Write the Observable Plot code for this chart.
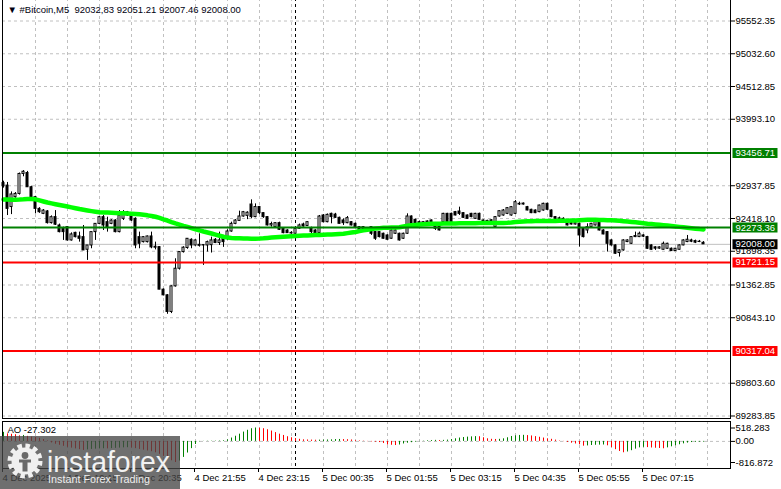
<!DOCTYPE html>
<html><head><meta charset="utf-8">
<script src="https://cdn.jsdelivr.net/npm/d3@7"></script>
<script src="https://cdn.jsdelivr.net/npm/@observablehq/plot@0.6"></script>
<style>
html,body{margin:0;padding:0;background:#fff;}
#wrap{position:relative;width:781px;height:489px;overflow:hidden;background:#fff;}
#main{position:absolute;left:0;top:-2px;}
#ao{position:absolute;left:0;top:419px;}
#logo{position:absolute;left:0;top:436px;}
</style></head>
<body><div id="wrap"><div id="main"></div><div id="ao"></div>
<svg id="logo" width="181" height="53">
  <rect x="0" y="0" width="180" height="53" fill="rgb(70,70,70)" fill-opacity="0.78"/>
  <g transform="translate(25,25)">
    <circle r="15" fill="none" stroke="#f0f0f0" stroke-width="5" stroke-dasharray="4.4 3.45"/>
    <circle r="13.5" fill="#f0f0f0"/>
    <circle cx="0" cy="-5.5" r="3.4" fill="rgb(105,105,105)"/>
    <path d="M-6,-1.5 h12 v3 h-3.5 v9 h-5 v-9 h-3.5z" fill="rgb(105,105,105)"/>
  </g>
  <text x="47" y="35.5" font-family="Liberation Sans, Arial, sans-serif" font-size="30" textLength="123" lengthAdjust="spacingAndGlyphs" fill="#f2f2f2">instaforex</text>
  <text x="48" y="47" font-family="Liberation Sans, Arial, sans-serif" font-size="11" textLength="102" lengthAdjust="spacingAndGlyphs" fill="#eeeeee">Instant Forex Trading</text>
</svg>
</div>
<script>
// ---------- data ----------
const title = "\u25BC #Bitcoin,M5 \u00A092032,83 92051.21 92007.46 92008.00";
const aoLabel = "AO -27.302";

const open = [92980,92940,92600,92756,92808,93125,93140,92914,92756,92571,92492,92530,92345,92440,92307,92254,92281,92070,92190,92133,
92122,91922,91990,92202,92333,92439,92360,92333,92386,92202,92413,92518,92465,92413,92122,92043,92043,92133,91970,91964,
91289,91199,90935,91341,91621,91885,91950,92080,91990,92000,91995,91990,91995,92080,92030,92096,92122,92212,92333,92380,
92450,92460,92640,92440,92600,92503,92440,92308,92281,92344,92255,92228,92190,92176,92255,92323,92300,92255,92228,92186,
92466,92360,92492,92480,92429,92387,92344,92360,92334,92281,92281,92255,92281,92202,92202,92176,92149,92097,92176,92176,
92097,92176,92450,92397,92360,92334,92371,92387,92344,92334,92360,92492,92492,92519,92529,92503,92466,92492,92413,92492,
92387,92370,92375,92281,92450,92466,92492,92466,92492,92651,92640,92598,92556,92545,92519,92545,92651,92545,92440,92420,
92413,92360,92344,92323,92334,92255,92228,92281,92308,92387,92228,92202,92070,91991,91870,91912,92044,92017,92123,92123,
92149,92123,91991,91960,91940,91922,91938,91938,91901,91922,91991,92044,92070,92060,92050,92032.83];
const high = [93010,92990,92840,92830,93140,93178,93165,92930,92770,92590,92560,92545,92460,92544,92330,92281,92290,92190,92200,92202,
92307,91990,92202,92333,92450,92465,92439,92400,92400,92544,92544,92530,92480,92430,92202,92130,92140,92202,92043,91970,
91300,91210,91350,91779,91890,91970,92096,92096,92080,92175,92005,92060,92122,92100,92202,92149,92240,92360,92400,92535,
92530,92525,92714,92650,92610,92510,92450,92360,92350,92360,92265,92240,92210,92270,92330,92344,92370,92281,92240,92466,
92480,92490,92503,92500,92440,92413,92450,92370,92345,92290,92290,92265,92290,92210,92210,92186,92160,92240,92240,92186,
92186,92492,92460,92410,92376,92370,92380,92395,92355,92344,92500,92500,92503,92530,92598,92510,92475,92500,92500,92503,
92395,92390,92400,92450,92540,92560,92590,92608,92703,92677,92665,92610,92565,92555,92630,92661,92660,92555,92450,92440,
92430,92370,92355,92350,92344,92265,92334,92340,92390,92400,92240,92210,92080,92000,91920,92080,92080,92130,92202,92202,
92160,92135,92000,91970,91970,92044,92025,91950,91945,92000,92080,92149,92090,92075,92070,92051.21];
const low = [92900,92465,92480,92740,92790,93080,92914,92740,92492,92500,92480,92330,92330,92307,92190,92070,92060,92060,92110,92043,
91911,91753,91938,92070,92320,92228,92202,92320,92190,92190,92386,92450,92370,91938,91938,92030,92030,91938,91920,91289,
91190,90898,90909,91330,91600,91870,91930,91938,91980,91964,91674,91885,91870,92020,91990,91960,92070,92200,92320,92370,
92440,92400,92413,92430,92480,92420,92300,92281,92270,92228,92176,92180,92170,92165,92245,92281,92290,92176,92180,92176,
92350,92350,92334,92420,92330,92308,92335,92300,92270,92230,92220,92230,92150,92070,92110,92090,92075,92090,92165,92060,
92085,92165,92320,92320,92325,92315,92335,92325,92228,92220,92350,92350,92350,92460,92466,92420,92405,92430,92405,92390,
92355,92355,92355,92270,92440,92455,92480,92455,92480,92624,92630,92540,92495,92495,92510,92535,92550,92430,92405,92405,
92395,92300,92315,92315,91965,92110,92176,92270,92300,92220,92160,91886,91980,91850,91806,91900,92035,92005,92115,92115,
92115,91930,91915,91912,91930,91915,91930,91895,91895,91915,91985,92035,92035,92020,92035,92007.46];
const close = [92930,92571,92800,92808,93125,93160,92914,92756,92571,92518,92544,92345,92439,92320,92202,92202,92070,92165,92122,92096,
91911,91990,92202,92333,92439,92307,92281,92386,92202,92465,92518,92465,92386,91990,92017,92122,92133,91960,91955,91289,
91199,90935,91341,91621,91885,91955,92096,91990,92070,91985,91990,92043,92070,92030,92070,92043,92212,92333,92386,92450,
92518,92510,92440,92600,92503,92440,92308,92330,92344,92239,92186,92186,92180,92255,92308,92292,92360,92202,92186,92450,
92360,92476,92440,92429,92334,92344,92424,92308,92281,92239,92228,92239,92176,92097,92123,92097,92081,92228,92228,92070,
92176,92450,92334,92334,92334,92360,92344,92334,92255,92228,92492,92360,92360,92466,92492,92429,92413,92440,92492,92397,
92365,92380,92390,92440,92534,92545,92582,92598,92677,92640,92655,92545,92503,92503,92624,92651,92556,92440,92413,92413,
92400,92308,92323,92344,92149,92123,92281,92334,92376,92228,92165,92017,91991,91859,91912,92070,92070,92123,92140,92176,
92130,91938,91922,91940,91960,92017,92017,91901,91938,91991,92070,92081,92050,92035,92045,92008.00];
const maValues = [92720,92718,92716,92716,92718,92722,92728,92729,92722,92705,92688,92672,92658,92645,92632,92620,92608,92595,92582,92568,
92556,92545,92535,92526,92518,92515,92512,92508,92505,92502,92500,92498,92494,92490,92484,92476,92468,92458,92446,92428,
92405,92386,92362,92340,92322,92302,92284,92266,92248,92230,92212,92196,92180,92162,92145,92128,92115,92108,92105,92103,
92102,92100,92098,92098,92100,92104,92110,92116,92120,92124,92128,92132,92136,92140,92144,92148,92150,92152,92155,92158,
92160,92163,92166,92170,92173,92176,92186,92196,92205,92218,92230,92240,92250,92258,92265,92270,92272,92274,92276,92280,
92292,92302,92310,92316,92322,92328,92332,92334,92335,92336,92337,92338,92339,92340,92341,92342,92343,92344,92344,92345,
92345,92346,92346,92346,92347,92348,92350,92355,92362,92368,92372,92375,92376,92377,92378,92378,92378,92379,92380,92381,
92382,92383,92385,92388,92392,92396,92398,92399,92398,92396,92394,92392,92390,92387,92382,92376,92370,92363,92357,92350,
92344,92336,92330,92324,92318,92312,92306,92299,92292,92285,92278,92271,92264,92257,92250,92245];
const aoValues = [350,290,275,260,215,230,195,170,150,120,70,20,-60,-110,-150,-190,-230,-260,-290,-320,
-350,-330,-310,-300,-290,-285,-290,-280,-270,-260,-250,-245,-255,-280,-310,-340,-370,-400,-440,-500,
-580,-660,-750,-816.872,-760,-620,-450,-280,-120,-20,5,8,10,12,15,25,60,130,200,280,
360,430,490,518.283,510,490,450,400,340,280,230,180,140,110,80,60,55,50,45,48,
50,55,60,70,75,70,65,55,30,20,10,-10,-20,-30,-45,-80,-140,-150,-160,-140,
-100,-70,-50,-30,-10,10,25,35,40,35,40,50,70,100,130,150,165,175,185,180,
140,100,80,75,80,100,140,190,215,230,235,225,210,185,160,130,100,80,50,15,
-10,-40,-70,-100,-130,-185,-175,-160,-150,-145,-140,-170,-240,-320,-390,-440,-410,-360,-300,-250,
-230,-240,-255,-265,-275,-285,-250,-210,-170,-130,-95,-65,-45,-35,-30,-27.302];

const priceTicks = [95552.35,95032.60,94512.85,93993.10,92937.85,92418.10,91898.35,91362.85,90843.10,89803.60,89283.85];
const priceMin = 89283.85, priceMax = 95552.35;
const greenLevels = [93456.71, 92273.36];
const redLevels = [91721.15, 90317.04];
const lastPrice = 92008.00;
const aoTicks = [518.283, 0, -816.872];
const aoMin = -816.872, aoMax = 518.283;
const timeBars = [0,16,32,48,64,80,96,112,128,144,160];
const timeLabels = ["4 Dec 2025","4 Dec 19:15","4 Dec 20:35","4 Dec 21:55","4 Dec 23:15","5 Dec 00:35","5 Dec 01:55","5 Dec 03:15","5 Dec 04:35","5 Dec 05:55","5 Dec 07:15"];
const gridBars = [8,16,24,32,40,48,56,64,72,80,88,96,104,112,120,128,136,144,152,160,168,176];
const dayBreakBar = 73;

// ---------- build ----------
const candles = open.map((o, i) => ({i, o, h: high[i], l: low[i], c: close[i]}));
const maData = maValues.map((v, i) => ({i, v}));
const aoData = aoValues.map((v, i) => ({i, v, up: i === 0 || v >= aoValues[i - 1]}));
const timeLabelOf = new Map(timeBars.map((b, k) => [b, timeLabels[k]]));

const FONT = '"Liberation Sans", Arial, sans-serif';
const GREEN = "#008000", RED = "#ff0000", LIME = "#00ff00", GRID = "#c0c0c0";
const W = 781;
const xScale = {type: "linear", domain: [0, 175], range: [3, 703], axis: null};
const labelBox = {draw(ctx) { ctx.moveTo(2, -5); ctx.lineTo(47, -5); ctx.lineTo(47, 5); ctx.lineTo(2, 5); ctx.closePath(); }};
const fmt2 = d => d.toFixed(2);

const boxMarks = (vals, color) => [
  Plot.dot(vals, {y: d => d, frameAnchor: "right", symbol: labelBox, r: 5, fill: color, stroke: null}),
  Plot.text(vals, {y: d => d, text: fmt2, frameAnchor: "right", dx: 5, textAnchor: "start", fill: "white"})
];

const main = Plot.plot({
  width: W, height: 421,
  marginTop: 0, marginBottom: 1, marginLeft: 2, marginRight: 51,
  x: xScale,
  y: {type: "linear", domain: [priceMin, priceMax], range: [417.5, 22.5], axis: null},
  style: {fontFamily: FONT, fontSize: "9.5px", background: "white", color: "black", overflow: "visible"},
  marks: [
    Plot.ruleY(priceTicks, {stroke: GRID, strokeDasharray: "3,3"}),
    Plot.ruleX(gridBars, {stroke: GRID, strokeDasharray: "3,3"}),
    Plot.ruleX([dayBreakBar], {stroke: "black", strokeDasharray: "3,3"}),
    Plot.ruleY([lastPrice], {stroke: GRID}),
    Plot.ruleX(candles, {x: "i", y1: "l", y2: "h", stroke: "black"}),
    Plot.rect(candles.filter(d => d.c >= d.o), {x1: d => d.i - 0.25, x2: d => d.i + 0.25, y1: "o", y2: "c", fill: "white", stroke: "black"}),
    Plot.rect(candles.filter(d => d.c < d.o), {x1: d => d.i - 0.25, x2: d => d.i + 0.25, y1: "o", y2: "c", fill: "black", stroke: "black"}),
    Plot.line(maData, {x: "i", y: "v", stroke: LIME, strokeWidth: 4.5}),
    Plot.ruleY(greenLevels, {stroke: GREEN, strokeWidth: 2}),
    Plot.ruleY(redLevels, {stroke: RED, strokeWidth: 2}),
    Plot.axisY(priceTicks, {anchor: "right", tickSize: 4, tickPadding: 1, tickFormat: fmt2, label: null}),
    ...boxMarks(greenLevels, GREEN),
    ...boxMarks(redLevels, RED),
    ...boxMarks([lastPrice], "black"),
    Plot.frame({stroke: "black"}),
    Plot.text([title], {text: d => d, frameAnchor: "top-left", dx: 5, dy: 8, textAnchor: "start", lineAnchor: "top", fill: "#000010"})
  ]
});
document.getElementById("main").appendChild(main);

const ao = Plot.plot({
  width: W, height: 70,
  marginTop: 2, marginBottom: 21, marginLeft: 2, marginRight: 51,
  x: xScale,
  y: {type: "linear", domain: [aoMin, aoMax], range: [43, 8.5], axis: null},
  style: {fontFamily: FONT, fontSize: "9.5px", background: "white", color: "black", overflow: "visible"},
  marks: [
    Plot.ruleX(gridBars, {stroke: GRID, strokeDasharray: "3,3"}),
    Plot.ruleY([0], {stroke: GRID, strokeDasharray: "3,3"}),
    Plot.ruleX([dayBreakBar], {stroke: "black", strokeDasharray: "3,3"}),
    Plot.ruleX(aoData.filter(d => d.up), {x: "i", y1: 0, y2: "v", stroke: GREEN}),
    Plot.ruleX(aoData.filter(d => !d.up), {x: "i", y1: 0, y2: "v", stroke: RED}),
    Plot.axisY(aoTicks, {anchor: "right", tickSize: 4, tickPadding: 1, tickFormat: d => d === 0 ? "0.00" : String(d), label: null}),
    Plot.axisX(timeBars, {anchor: "bottom", tickSize: 4, tickPadding: 2, tickFormat: d => timeLabelOf.get(d), textAnchor: "start", dx: -1, label: null}),
    Plot.frame({stroke: "black"}),
    Plot.text([aoLabel], {text: d => d, frameAnchor: "top-left", dx: 5, dy: 5, textAnchor: "start", lineAnchor: "top", fill: "black"})
  ]
});
document.getElementById("ao").appendChild(ao);
</script>
</body></html>
